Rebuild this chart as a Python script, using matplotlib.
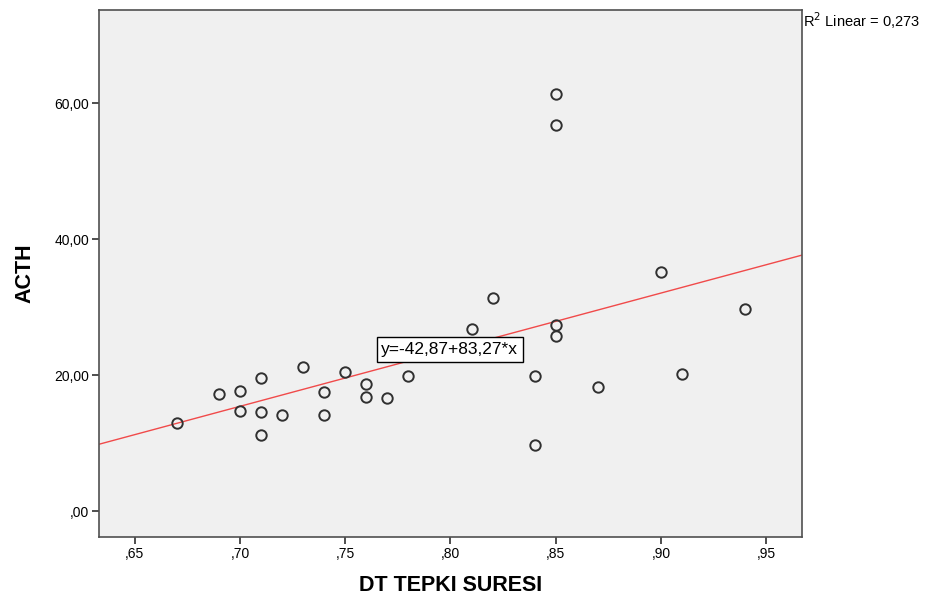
import matplotlib.pyplot as plt
import numpy as np

# DT tepki suresi vs ACTH
dt = [0.67, 0.69, 0.70, 0.70, 0.71, 0.71, 0.71, 0.72, 0.73, 0.74,
      0.74, 0.75, 0.76, 0.76, 0.77, 0.78, 0.81, 0.82, 0.84, 0.84,
      0.85, 0.85, 0.85, 0.85, 0.87, 0.90, 0.91, 0.94]
acth = [12.9, 17.2, 17.6, 14.7, 19.6, 14.6, 11.2, 14.1, 21.2, 17.5,
        14.1, 20.4, 18.7, 16.8, 16.6, 19.9, 26.8, 31.3, 19.9, 9.7,
        61.3, 56.8, 27.4, 25.7, 18.2, 35.1, 20.1, 29.7]

intercept = -42.87
slope = 83.27
r2 = 0.273

xticks = [0.65, 0.70, 0.75, 0.80, 0.85, 0.90, 0.95]
yticks = [0, 20, 40, 60]

def fmt(v):
    s = ('%.2f' % v).replace('.', ',')
    return s[1:] if s.startswith('0') else s

narrow = ['Liberation Sans Narrow', 'Liberation Sans', 'DejaVu Sans']
sans = ['Liberation Sans', 'DejaVu Sans']

fig = plt.figure(figsize=(9.36, 5.98), dpi=100)
ax = fig.add_axes([0.1058, 0.102, 0.7510, 0.8813])
ax.set_facecolor('#f0f0f0')

xmin, xmax = 0.633, 0.967
ax.set_xlim(xmin, xmax)
ax.set_ylim(-3.8, 73.7)

# fit line across the whole axis
xs = np.array([xmin, xmax])
ax.plot(xs, intercept + slope * xs, color='#f04a4a', lw=1.0, zorder=2)

ax.plot(dt, acth, 'o', ms=7.5, mfc='none', mec='#303030', mew=1.4, zorder=3)

eq = 'y=%s+%s*x' % (('%.2f' % intercept).replace('.', ','),
                    ('%.2f' % slope).replace('.', ','))
ax.text(0.7997, 23.8, eq, ha='center', va='center',
        fontsize=12.5, family=sans,
        bbox=dict(facecolor='white', edgecolor='black', lw=1, boxstyle='square,pad=0.28'),
        zorder=4)

ax.set_xticks(xticks)
ax.set_xticklabels([fmt(v) for v in xticks], family=narrow, fontsize=10)
ax.set_yticks(yticks)
ax.set_yticklabels([fmt(v) for v in yticks], family=narrow, fontsize=10)
ax.tick_params(direction='out', length=5, width=1.2, color='#303030', pad=2,
               top=False, right=False)
for s in ax.spines.values():
    s.set_color('#505050')
    s.set_linewidth(1.2)

ax.set_xlabel('DT TEPKI SURESI', fontsize=15.5, fontweight='bold',
              family=sans, labelpad=10)
ax.set_ylabel('ACTH', fontsize=15.5, fontweight='bold', family=sans, labelpad=14)

fig.text(0.858, 0.966, 'R$^2$ Linear = %s' % ('%.3f' % r2).replace('.', ','),
         fontsize=10.5, family=narrow, ha='left', va='center')

fig.savefig('out.png', dpi=100)
